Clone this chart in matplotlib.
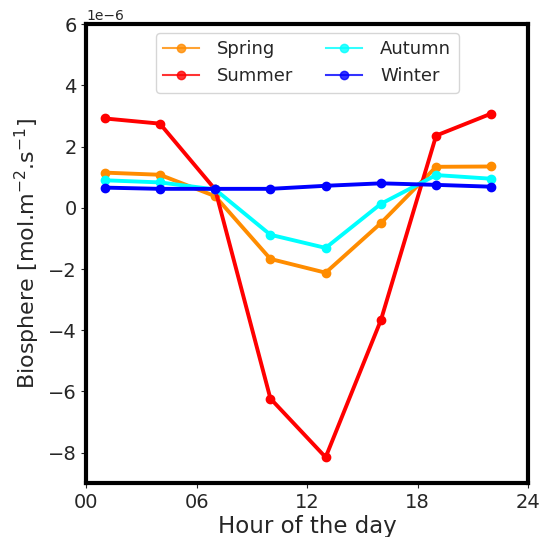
import numpy as np
import matplotlib
matplotlib.use('Agg')
import matplotlib.pyplot as plt

# Diurnal cycle of biosphere flux per season (values in 1e-6 mol.m-2.s-1)
hours = [1, 4, 7, 10, 13, 16, 19, 22]
spring = [1.15, 1.08, 0.38, -1.67, -2.12, -0.5, 1.34, 1.35]
summer = [2.92, 2.75, 0.6, -6.23, -8.15, -3.67, 2.36, 3.08]
autumn = [0.9, 0.83, 0.6, -0.88, -1.31, 0.13, 1.07, 0.95]
winter = [0.66, 0.62, 0.62, 0.62, 0.72, 0.8, 0.75, 0.69]

series = [('Spring', spring, 'darkorange'),
          ('Summer', summer, 'red'),
          ('Autumn', autumn, 'cyan'),
          ('Winter', winter, 'blue')]

xticks = [0, 6, 12, 18, 24]
xtick_labels = ['00', '06', '12', '18', '24']

txt = '#262626'
plt.rcParams['text.color'] = txt
plt.rcParams['axes.labelcolor'] = txt
plt.rcParams['xtick.color'] = txt
plt.rcParams['ytick.color'] = txt

fig, ax = plt.subplots(figsize=(5.39, 5.37), dpi=100)

for name, vals, color in series:
    ax.plot(hours, np.array(vals) * 1e-6, marker='o', color=color,
            linewidth=2.8, markersize=6, label=name)

ax.set_xlim(0, 24)
ax.set_ylim(-9e-6, 6e-6)
ax.set_xticks(xticks)
ax.set_xticklabels(xtick_labels)
ax.tick_params(labelsize=14)
ax.yaxis.get_offset_text().set_fontsize(10)

for side in ['top', 'bottom', 'left', 'right']:
    ax.spines[side].set_linewidth(3)

ax.set_xlabel('Hour of the day', fontsize=16.5, labelpad=2)
ax.set_ylabel(r'Biosphere [mol.m$^{-2}$.s$^{-1}$]', fontsize=16)
leg = ax.legend(loc='upper center', ncol=2, fontsize=13,
                columnspacing=1.8, handletextpad=1.0)
for h in leg.legend_handles:
    h.set_linewidth(1.5)
    h.set_markersize(6)
    h.set_alpha(0.8)

plt.subplots_adjust(left=0.16, right=0.98, top=0.955, bottom=0.1)
plt.savefig('out.png', dpi=100)
